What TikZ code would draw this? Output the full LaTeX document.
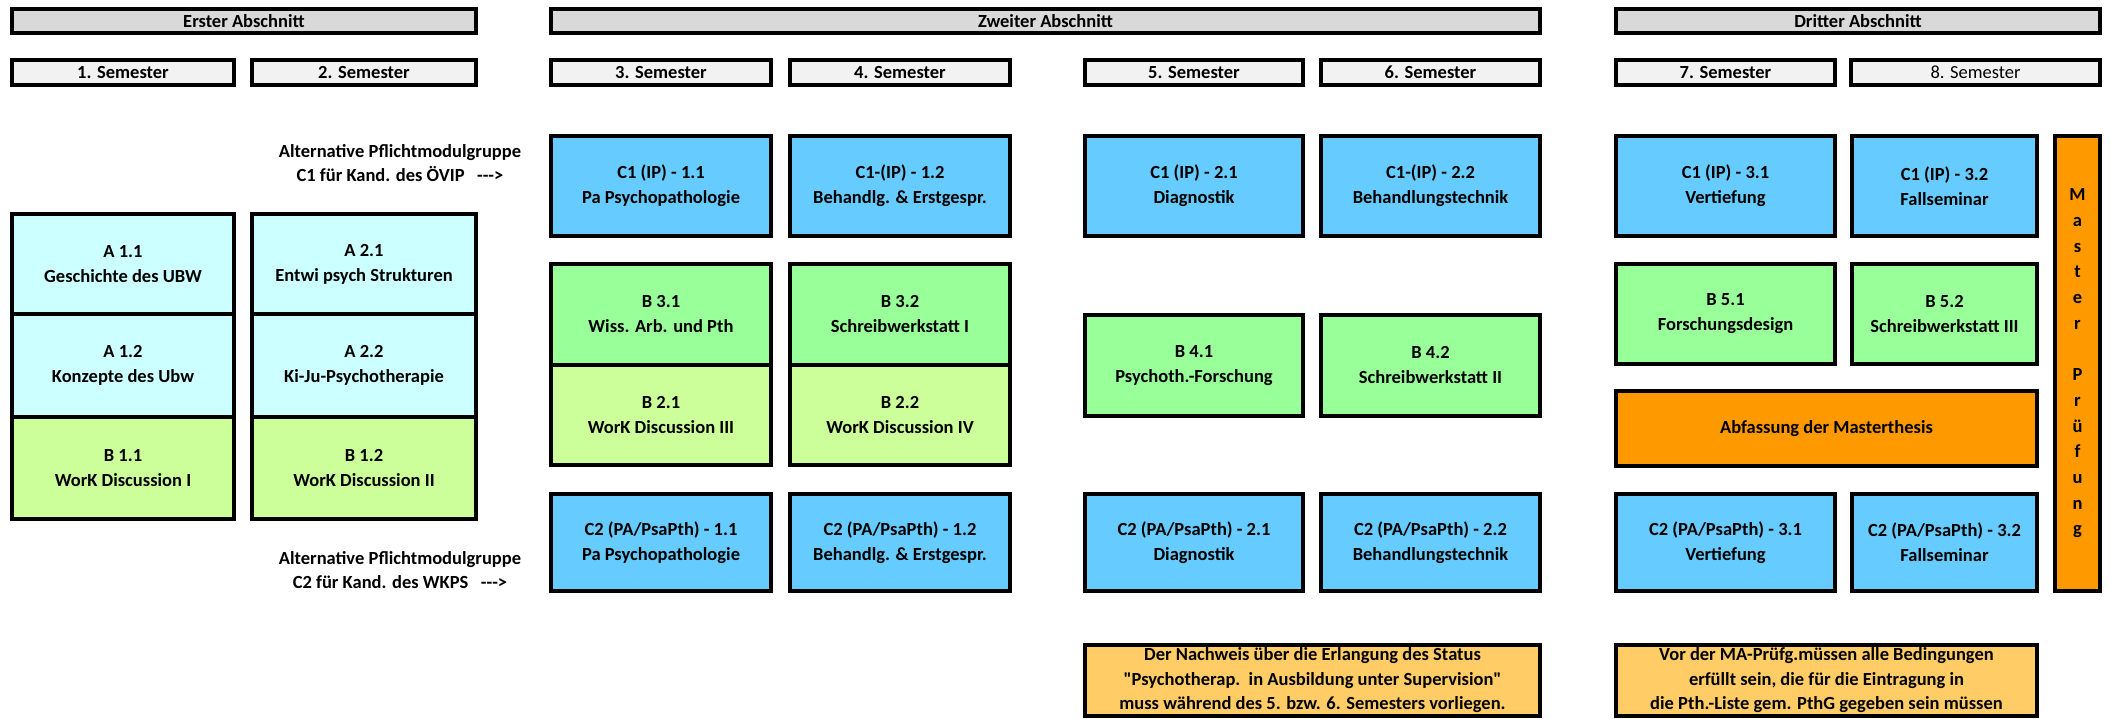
\documentclass[tikz,border=0pt]{standalone}
\usepackage{fontspec}
\setmainfont{Carlito}
\newfontfamily\calfont{Carlito}
\definecolor{abschc}{HTML}{D9D9D9}
\definecolor{semc}{HTML}{F2F2F2}
\definecolor{cblue}{HTML}{66CCFF}
\definecolor{acyan}{HTML}{CCFFFF}
\definecolor{bgreen}{HTML}{99FF99}
\definecolor{blime}{HTML}{CCFF99}
\definecolor{orng}{HTML}{FF9900}
\definecolor{notec}{HTML}{FFCC66}
\newcommand\mybox[7]{\node[#6, minimum width={(#4-#2)*1pt}, minimum height={(#5-#3)*1pt}] (#1) at ({(#2+#4)/2},{(#3+#5)/2}) {#7};}
\begin{document}
\begin{tikzpicture}[x=1pt,y=-1pt,
  basebox/.style={draw, line width=4.5pt, inner sep=0pt, align=center, text=black,
    font=\calfont\fontsize{18.5}{25}\selectfont\bfseries},
  hdr/.style={basebox, fill=abschc},
  sem/.style={basebox, fill=semc},
  cbox/.style={basebox, fill=cblue},
  abox/.style={basebox, fill=acyan},
  bbox/.style={basebox, fill=bgreen},
  lbox/.style={basebox, fill=blime},
  obox/.style={basebox, fill=orng},
  nbox/.style={basebox, fill=notec, font=\calfont\fontsize{18.5}{24.5}\selectfont\bfseries},
  lbl/.style={inner sep=0pt, align=center, font=\calfont\fontsize{18.5}{23.5}\selectfont\bfseries}]
\useasboundingbox (0,0) rectangle (2110,719);
% Abschnitte
\mybox{abs1}{12}{9}{476}{33}{hdr}{Erster Abschnitt}
\mybox{abs2}{551}{9}{1540}{33}{hdr}{Zweiter Abschnitt}
\mybox{abs3}{1616}{9}{2100}{33}{hdr}{Dritter Abschnitt}
% Semester
\mybox{s1}{12}{60}{234}{85}{sem}{1. Semester}
\mybox{s2}{252}{60}{476}{85}{sem}{2. Semester}
\mybox{s3}{551}{60}{771}{85}{sem}{3. Semester}
\mybox{s4}{790}{60}{1010}{85}{sem}{4. Semester}
\mybox{s5}{1085}{60}{1303}{85}{sem}{5. Semester}
\mybox{s6}{1321}{60}{1540}{85}{sem}{6. Semester}
\mybox{s7}{1616}{60}{1835}{85}{sem}{7. Semester}
\mybox{s8}{1851}{60}{2100}{85}{sem, font=\calfont\fontsize{18.5}{25}\selectfont\mdseries}{8. Semester}
% C1 row
\mybox{c11}{551}{136}{771}{236}{cbox}{C1 (IP) - 1.1\\Pa Psychopathologie}
\mybox{c12}{790}{136}{1010}{236}{cbox}{C1-(IP) - 1.2\\Behandlg. \& Erstgespr.}
\mybox{c21}{1085}{136}{1303}{236}{cbox}{C1 (IP) - 2.1\\Diagnostik}
\mybox{c22}{1321}{136}{1540}{236}{cbox}{C1-(IP) - 2.2\\Behandlungstechnik}
\mybox{c31}{1616}{136}{1835}{236}{cbox}{C1 (IP) - 3.1\\Vertiefung}
\mybox{c32}{1852}{136}{2037}{236}{cbox}{C1 (IP) - 3.2\\Fallseminar}
% A / B first section
\mybox{a11}{12}{214}{234}{314}{abox}{A 1.1\\Geschichte des UBW}
\mybox{a12}{12}{314}{234}{417}{abox}{A 1.2\\Konzepte des Ubw}
\mybox{b11}{12}{417}{234}{519}{lbox}{B 1.1\\WorK Discussion I}
\mybox{a21}{252}{214}{476}{314}{abox}{A 2.1\\Entwi psych Strukturen}
\mybox{a22}{252}{314}{476}{417}{abox}{A 2.2\\Ki-Ju-Psychotherapie}
\mybox{b12}{252}{417}{476}{519}{lbox}{B 1.2\\WorK Discussion II}
% B second section
\mybox{b31}{551}{264}{771}{365}{bbox}{B 3.1\\Wiss. Arb. und Pth}
\mybox{b21}{551}{365}{771}{465}{lbox}{B 2.1\\WorK Discussion III}
\mybox{b32}{790}{264}{1010}{365}{bbox}{B 3.2\\Schreibwerkstatt I}
\mybox{b22}{790}{365}{1010}{465}{lbox}{B 2.2\\WorK Discussion IV}
\mybox{b41}{1085}{315}{1303}{416}{bbox}{B 4.1\\Psychoth.-Forschung}
\mybox{b42}{1321}{315}{1540}{416}{bbox}{B 4.2\\Schreibwerkstatt II}
% third section
\mybox{b51}{1616}{264}{1835}{364}{bbox}{B 5.1\\Forschungsdesign}
\mybox{b52}{1852}{264}{2037}{364}{bbox}{B 5.2\\Schreibwerkstatt III}
\mybox{thesis}{1616}{391}{2037}{466}{obox}{Abfassung der Masterthesis}
\mybox{master}{2055}{136}{2100}{591}{obox, font=\calfont\fontsize{18.5}{25.7}\selectfont\bfseries}{M\\a\\s\\t\\e\\r\\[25.7pt]P\\r\\ü\\f\\u\\n\\g}
% C2 row
\mybox{d11}{551}{494}{771}{591}{cbox}{C2 (PA/PsaPth) - 1.1\\Pa Psychopathologie}
\mybox{d12}{790}{494}{1010}{591}{cbox}{C2 (PA/PsaPth) - 1.2\\Behandlg. \& Erstgespr.}
\mybox{d21}{1085}{494}{1303}{591}{cbox}{C2 (PA/PsaPth) - 2.1\\Diagnostik}
\mybox{d22}{1321}{494}{1540}{591}{cbox}{C2 (PA/PsaPth) - 2.2\\Behandlungstechnik}
\mybox{d31}{1616}{494}{1835}{591}{cbox}{C2 (PA/PsaPth) - 3.1\\Vertiefung}
\mybox{d32}{1852}{494}{2037}{591}{cbox}{C2 (PA/PsaPth) - 3.2\\Fallseminar}
% notes
\mybox{n1}{1085}{645}{1540}{716}{nbox}{Der Nachweis über die Erlangung des Status\\"Psychotherap.\ \ in Ausbildung unter Supervision"\\muss während des 5. bzw. 6. Semesters vorliegen.}
\mybox{n2}{1616}{645}{2037}{716}{nbox}{Vor der MA-Prüfg.müssen alle Bedingungen\\erfüllt sein, die für die Eintragung in\\die Pth.-Liste gem. PthG gegeben sein müssen}
% side labels
\node[lbl] (l1) at (400,163) {Alternative Pflichtmodulgruppe\\C1 für Kand. des ÖVIP\ \ \ --->};
\node[lbl] (l2) at (400,570) {Alternative Pflichtmodulgruppe\\C2 für Kand. des WKPS\ \ \ --->};
\end{tikzpicture}
\end{document}
